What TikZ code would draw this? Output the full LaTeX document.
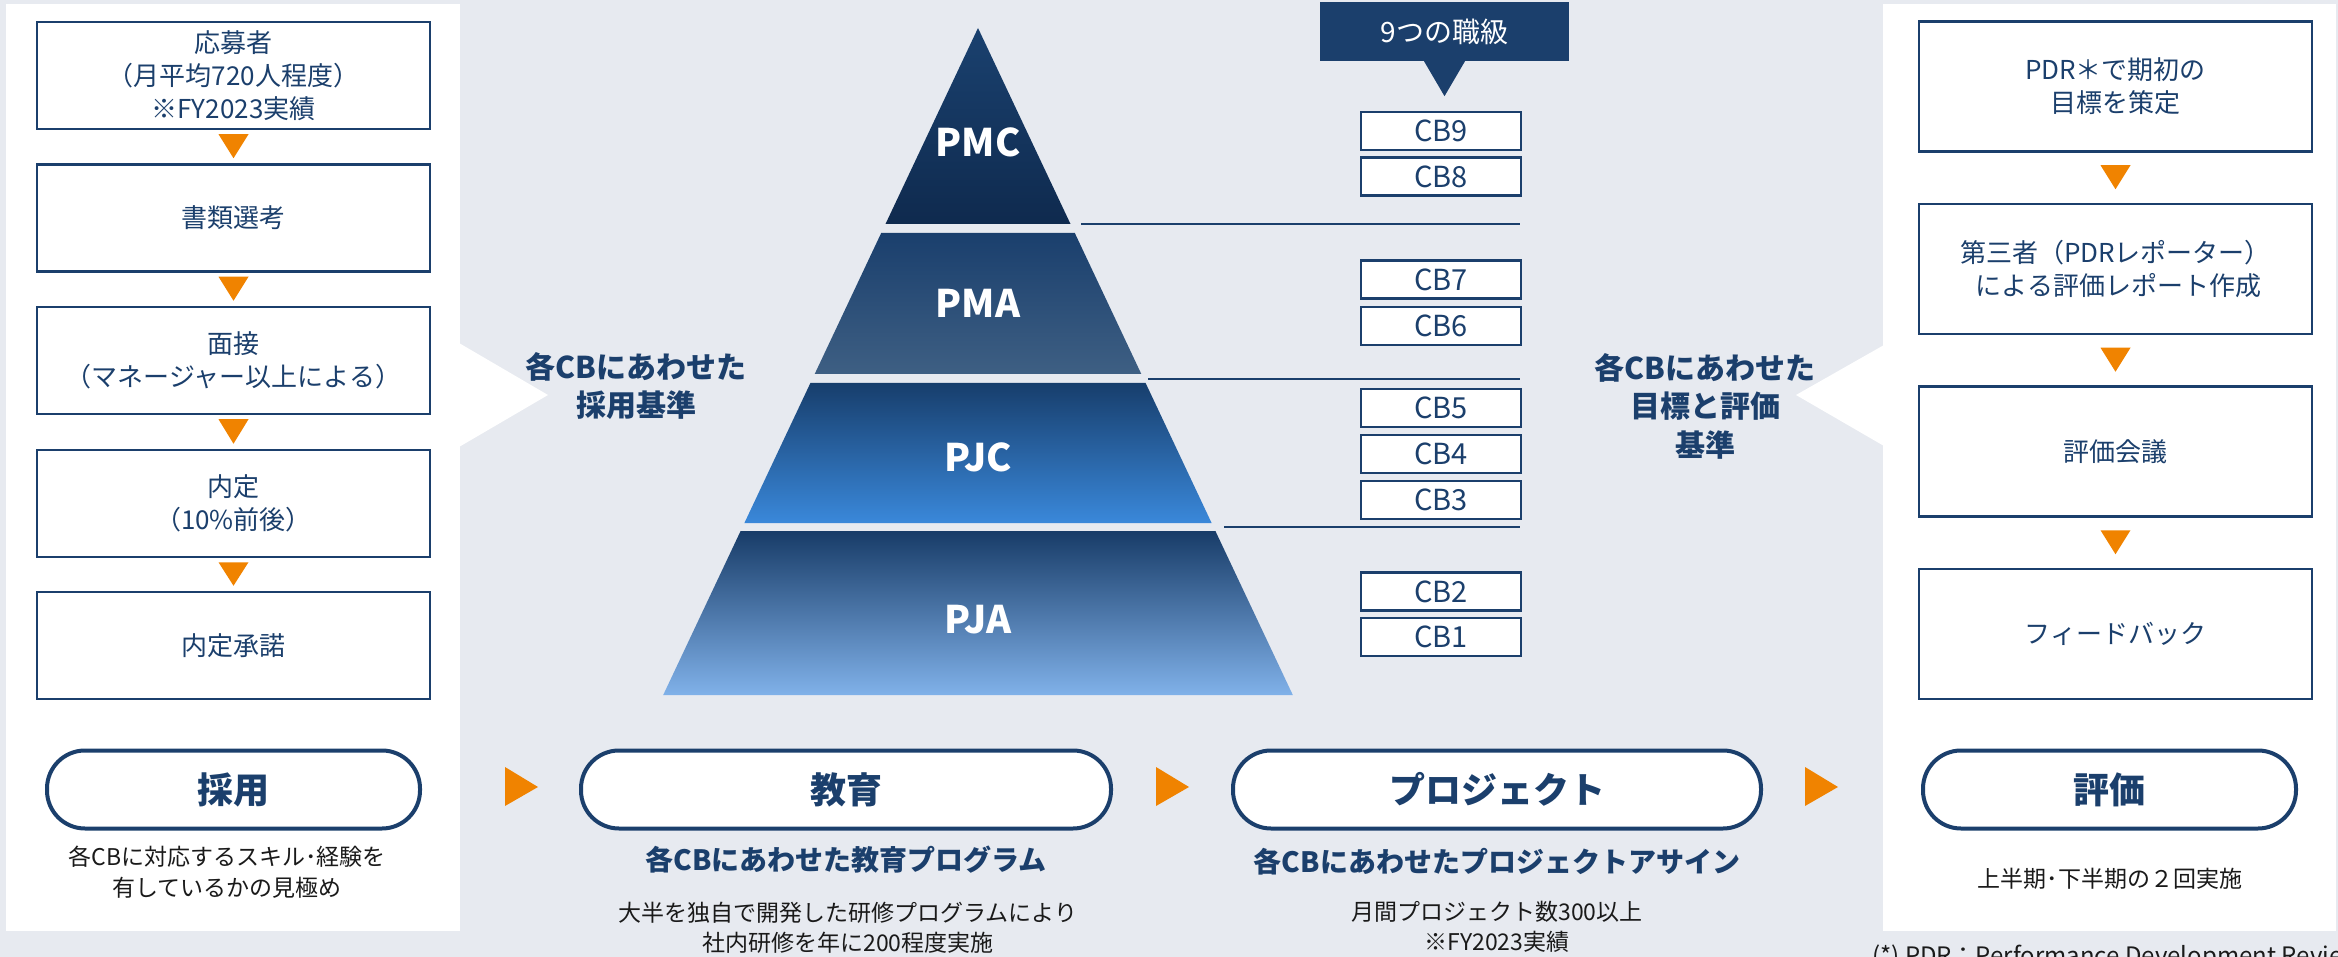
\documentclass[tikz,border=0pt]{standalone}
\usepackage{fontspec}
\setmainfont{Noto Sans CJK JP}
\usetikzlibrary{calc}
\definecolor{navy}{HTML}{1B3F6C}
\definecolor{bg}{HTML}{E7EAF0}
\definecolor{orng}{HTML}{F08300}
\definecolor{capblack}{HTML}{1A1A1A}
\definecolor{pmcT}{HTML}{1A416F}
\definecolor{pmcB}{HTML}{0F2A4E}
\definecolor{pmaT}{HTML}{1A3F6D}
\definecolor{pmaB}{HTML}{3E5F83}
\definecolor{pjcT}{HTML}{173E6C}
\definecolor{pjcB}{HTML}{3A88DA}
\definecolor{pjaT}{HTML}{183C68}
\definecolor{pjaB}{HTML}{80B1E9}
\tikzset{
  flowbox/.style={draw=navy, line width=2.5pt, fill=white, minimum width=393pt, minimum height=107pt, align=center, text=navy, font=\fontsize{26}{33}\selectfont, inner sep=0pt},
  rbox/.style={flowbox, minimum height=130pt},
  cbbox/.style={draw=navy, line width=2.2pt, fill=white, minimum width=160pt, minimum height=38pt, text=navy, font=\fontsize{29}{32}\selectfont, inner sep=0pt},
  pill/.style={draw=navy, line width=4pt, fill=white, rounded corners=38pt, minimum height=78pt, text=navy, font=\fontsize{36}{40}\selectfont\bfseries, inner sep=0pt},
  tierlabel/.style={text=white, font=\fontsize{38}{40}\selectfont\bfseries, inner sep=0pt},
  midlabel/.style={text=navy, align=center, font=\fontsize{30}{38.5}\selectfont\bfseries, inner sep=0pt},
  boldcap/.style={text=navy, font=\fontsize{28}{32}\selectfont\bfseries, inner sep=0pt},
  regcap/.style={text=capblack, align=center, font=\fontsize{23}{30.5}\selectfont, inner sep=0pt},
  downtri/.style={fill=orng},
  divline/.style={draw=navy, line width=2pt},
}
\begin{document}
\begin{tikzpicture}[x=1pt,y=-1pt]
\useasboundingbox (0,0) rectangle (2338,957);
\clip (0,0) rectangle (2338,957);
\fill[bg] (0,0) rectangle (2338,957);

% white panels with notches
\fill[white] (6,4) rectangle (460,931);
\fill[white] (459,343) -- (548,395) -- (459,447) -- cycle;
\fill[white] (1883,4) rectangle (2336,931);
\fill[white] (1884,345) -- (1796,395) -- (1884,446) -- cycle;

% left flow
\node[flowbox] (l1) at (233.5,75.5) {応募者\\（月平均720人程度）\\※FY2023実績};
\node[flowbox] (l2) at (233.5,218) {書類選考};
\node[flowbox] (l3) at (233.5,360.5) {面接\\（マネージャー以上による）};
\node[flowbox] (l4) at (233.5,503.5) {内定\\（10\%前後）};
\node[flowbox] (l5) at (233.5,645.5) {内定承諾};
\foreach \a/\b in {l1/l2,l2/l3,l3/l4,l4/l5}{
  \fill[downtri] ([xshift=-15pt,yshift=-4pt]\a.south) -- ([xshift=15pt,yshift=-4pt]\a.south) -- ([yshift=5pt]\b.north) -- cycle;
}

% right flow
\node[rbox] (r1) at (2115.5,86.5) {PDR＊で期初の\\目標を策定};
\node[rbox] (r2) at (2115.5,269) {第三者（PDRレポーター）\\\ による評価レポート作成};
\node[rbox] (r3) at (2115.5,451.5) {評価会議};
\node[rbox] (r4) at (2115.5,634) {フィードバック};
\foreach \a/\b in {r1/r2,r2/r3,r3/r4}{
  \fill[downtri] ([xshift=-15pt,yshift=-12.5pt]\a.south) -- ([xshift=15pt,yshift=-12.5pt]\a.south) -- ([yshift=13.5pt]\b.north) -- cycle;
}

% pyramid
\shade[top color=pmcT, bottom color=pmcB] (978,28) -- (1070.5,224) -- (885.5,224) -- cycle;
\shade[top color=pmaT, bottom color=pmaB] (881.2,233) -- (1074.8,233) -- (1141.3,374) -- (814.7,374) -- cycle;
\shade[top color=pjcT, bottom color=pjcB] (810.4,383) -- (1145.6,383) -- (1211.6,523) -- (744.4,523) -- cycle;
\shade[top color=pjaT, bottom color=pjaB] (740.6,531) -- (1215.4,531) -- (1292.8,695) -- (663.2,695) -- cycle;
\node[tierlabel] (pmc) at (978,142) {PMC};
\node[tierlabel] (pma) at (978,303) {PMA};
\node[tierlabel] (pjc) at (978,457) {PJC};
\node[tierlabel] (pja) at (978,620) {PJA};

% divider lines
\draw[divline] (1081,224) -- (1520,224);
\draw[divline] (1148,379) -- (1520,379);
\draw[divline] (1224,527) -- (1520,527);

% header
\node[fill=navy, minimum width=249pt, minimum height=59pt, text=white, font=\fontsize{28}{30}\selectfont, inner sep=0pt] (hdr) at (1444.5,31.5) {9つの職級};
\fill[navy] ([xshift=-20.5pt]hdr.south) -- ([xshift=20.5pt]hdr.south) -- ([yshift=-35pt]hdr.south) -- cycle;

% CB boxes
\node[cbbox] (cb9) at (1441,131) {CB9};
\node[cbbox] (cb8) at (1441,176.5) {CB8};
\node[cbbox] (cb7) at (1441,279.5) {CB7};
\node[cbbox] (cb6) at (1441,326) {CB6};
\node[cbbox] (cb5) at (1441,408) {CB5};
\node[cbbox] (cb4) at (1441,454) {CB4};
\node[cbbox] (cb3) at (1441,500) {CB3};
\node[cbbox] (cb2) at (1441,591.5) {CB2};
\node[cbbox] (cb1) at (1441,637) {CB1};

% middle labels
\node[midlabel] (lcrit) at (636,386) {各CBにあわせた\\採用基準};
\node[midlabel] (rcrit) at (1705,406) {各CBにあわせた\\目標と評価\\基準};

% pills
\node[pill, minimum width=373pt] (saiyo) at (233.5,789.5) {採用};
\node[pill, minimum width=530pt] (kyoiku) at (846,789.5) {教育};
\node[pill, minimum width=528pt] (pj) at (1497,789.5) {プロジェクト};
\node[pill, minimum width=373pt] (hyoka) at (2109.5,789.5) {評価};

% orange right arrows
\fill[orng] (505,767) -- (538,787) -- (505,806) -- cycle;
\fill[orng] (1156,767) -- (1189,787) -- (1156,806) -- cycle;
\fill[orng] (1805,767) -- (1838,787) -- (1805,806) -- cycle;

% captions
\node[regcap] (c1) at (227,872) {各CBに対応するスキル･経験を\\有しているかの見極め};
\node[boldcap] (c2) at (846,860) {各CBにあわせた教育プログラム};
\node[regcap] (c2b) at (848,928) {大半を独自で開発した研修プログラムにより\\社内研修を年に200程度実施};
\node[boldcap] (c3) at (1497,862) {各CBにあわせたプロジェクトアサイン};
\node[regcap] (c3b) at (1497,927) {月間プロジェクト数300以上\\※FY2023実績};
\node[regcap] (c4) at (2110,879) {上半期･下半期の２回実施};

% footnote
\node[anchor=base west, inner sep=0pt, text=capblack, font=\fontsize{24}{28}\selectfont] (fn) at (1872,964) {(*) PDR：Performance Development Review};
\end{tikzpicture}
\end{document}
